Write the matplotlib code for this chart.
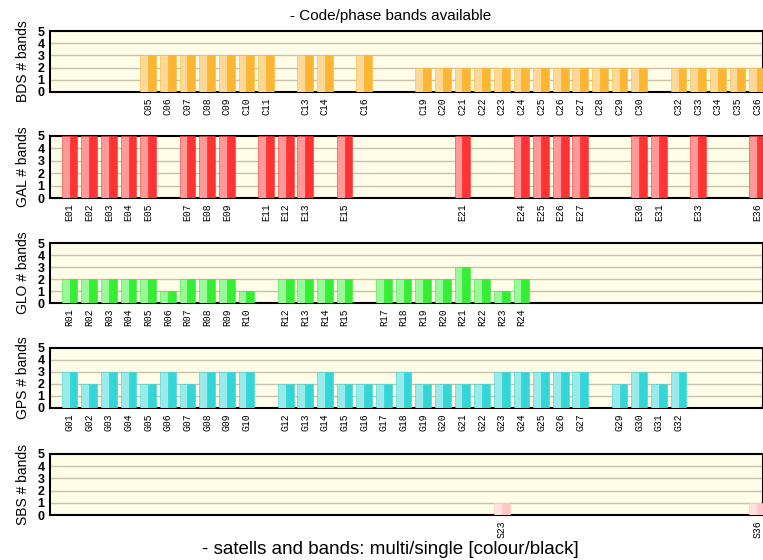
import matplotlib
matplotlib.use("Agg")
import matplotlib.pyplot as plt
import numpy as np

# satellites per system and number of bands (same for multi/single halves)
bds_sats = [5, 6, 7, 8, 9, 10, 11, 13, 14, 16, 19, 20, 21, 22, 23, 24, 25, 26, 27, 28, 29, 30, 32, 33, 34, 35, 36]
bds_bands = [3, 3, 3, 3, 3, 3, 3, 3, 3, 3, 2, 2, 2, 2, 2, 2, 2, 2, 2, 2, 2, 2, 2, 2, 2, 2, 2]

gal_sats = [1, 2, 3, 4, 5, 7, 8, 9, 11, 12, 13, 15, 21, 24, 25, 26, 27, 30, 31, 33, 36]
gal_bands = [5] * 21

glo_sats = [1, 2, 3, 4, 5, 6, 7, 8, 9, 10, 12, 13, 14, 15, 17, 18, 19, 20, 21, 22, 23, 24]
glo_bands = [2, 2, 2, 2, 2, 1, 2, 2, 2, 1, 2, 2, 2, 2, 2, 2, 2, 2, 3, 2, 1, 2]

gps_sats = [1, 2, 3, 4, 5, 6, 7, 8, 9, 10, 12, 13, 14, 15, 16, 17, 18, 19, 20, 21, 22, 23, 24, 25, 26, 27, 29, 30, 31, 32]
gps_bands = [3, 2, 3, 3, 2, 3, 2, 3, 3, 3, 2, 2, 3, 2, 2, 2, 3, 2, 2, 2, 2, 3, 3, 3, 3, 3, 2, 3, 2, 3]

sbs_sats = [23, 36]
sbs_bands = [1, 1]

panels = [
    ("BDS", "C", bds_sats, bds_bands, "#fed896", "#fdb632", 31, 92),
    ("GAL", "E", gal_sats, gal_bands, "#ff9999", "#ff3333", 136, 198),
    ("GLO", "R", glo_sats, glo_bands, "#99f999", "#33ee33", 243, 303),
    ("GPS", "G", gps_sats, gps_bands, "#99ebeb", "#33d6d6", 348, 408),
    ("SBS", "S", sbs_sats, sbs_bands, "#ffe0e0", "#ffc6c6", 454, 515),
]

W, H = 763, 560
fig = plt.figure(figsize=(W / 100, H / 100), dpi=100)

for name, pre, sats, bands, c_light, c_dark, top, bot in panels:
    ax = fig.add_axes([50 / W, 1 - bot / H, 713 / W, (bot - top) / H])
    ax.set_facecolor("#fffde8")
    x = np.array(sats)
    ax.bar(x - 0.2, bands, width=0.4, color=c_light, edgecolor=c_dark, lw=0.4, zorder=3)
    ax.bar(x + 0.2, bands, width=0.4, color=c_dark, edgecolor=c_dark, lw=0.4, zorder=3)
    ax.set_xlim(0, 36.3)
    ax.set_ylim(0, 5)
    ax.set_yticks(range(6))
    ax.set_yticklabels([str(i) for i in range(6)], fontsize=9, fontweight="bold",
                       family="Liberation Sans")
    for yv in range(1, 5):
        ax.axhline(yv, color="#c8c3a8", lw=1, zorder=1)
    ax.set_xticks(x)
    ax.set_xticklabels(["%s%02d" % (pre, s) for s in sats], rotation=90,
                       fontsize=7, family="Liberation Mono")
    ax.tick_params(length=0, pad=4)
    ax.tick_params(axis="y", pad=4)
    ax.set_ylabel(name + " # bands", fontsize=10, family="Liberation Sans", labelpad=5)
    for sp in ax.spines.values():
        sp.set_linewidth(1.5)

fig.text(0.512, 1 - 16 / H, "- Code/phase bands available", ha="center", va="center",
         fontsize=11, family="Liberation Sans")
fig.text(0.511, 1 - 549 / H, "- satells and bands: multi/single [colour/black]",
         ha="center", va="center", fontsize=13.5, family="Liberation Sans")

fig.savefig("out.png", dpi=100)
